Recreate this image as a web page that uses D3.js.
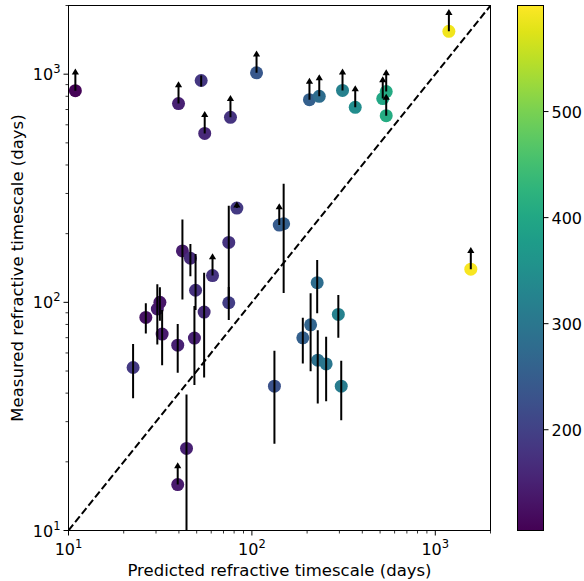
<!DOCTYPE html>
<html><head><meta charset="utf-8">
<script src="https://cdn.jsdelivr.net/npm/d3@7"></script>
<style>body{margin:0;background:#fff}svg{display:block}text{font-family:"DejaVu Sans",sans-serif;fill:#000}</style>
</head><body>
<svg id="chart" width="584" height="581"></svg>
<script>
// ---- data ----
const predicted = [10.9,39.8,52.9,55.3,76.4,106,206,233,312,366,517,540,540,1186,141,149,
  22.5,26.4,30.5,31.5,32.4,39.4,41.8,46.2,49.3,48.6,54.9,61,74.8,74.8,82.8,132.7,227,296,209,189.5,228.6,254,307,1562,44.0,39.4];
const measured = [847,743,938,550,647,1014,773,800,849,716,782,839,658,1541,218,221,
  51.8,85.9,93.5,100,72.6,64.9,168,156,113,69.7,90.6,131,183,99.6,259,42.9,122,88.5,79.7,69.9,55.8,53.7,42.9,139.7,22.9,15.9];
const colorValue = [110,150,185,160,180,240,255,280,320,345,400,405,410,590,245,255,
  190,130,145,135,140,150,145,165,175,150,165,180,180,195,190,230,280,320,265,255,290,300,310,595,150,140];
const errLow = [null,null,882,null,null,null,null,null,null,null,null,null,null,null,null,110,
  38.0,73,65.4,83,53,49.1,103,130,92.5,43.4,46.8,null,102.4,83.6,null,24.0,89.5,69.9,49.9,54,36,36.9,30.4,null,5,null];
const errHigh = [null,null,986,null,null,null,null,null,null,null,null,null,null,null,null,331,
  65.6,99,120,116.4,92.5,80.4,231,180,163,96.3,134.8,null,265,116.7,null,61.3,153.5,107.7,109.5,85.5,75.5,70.6,55.4,null,39.5,null];
const lowerLimitTip = [1060,930,null,690,810,1270,965,1000,1060,895,980,1050,820,1930,272,null,
  null,null,null,null,null,null,null,null,null,null,null,164,null,null,277,null,null,null,null,null,null,null,null,175,null,19.9];
const xTicks = [10,100,1000];
const yTicks = [10,100,1000];
const colorTicks = [200,300,400,500];
const colorDomain = [105,600];
const axisDomain = [10,2000];
const xLabel = "Predicted refractive timescale (days)";
const yLabel = "Measured refractive timescale (days)";

// ---- layout ----
const svg = d3.select("#chart");
const L = 68.5, R = 490.5, T = 5.5, B = 530.5;
const x = d3.scaleLog().domain(axisDomain).range([L, R]);
const y = d3.scaleLog().domain(axisDomain).range([B, T]);
const color = d3.scaleSequential(d3.interpolateViridis).domain(colorDomain);

const pts = predicted.map((p,i)=>({x:p,y:measured[i],c:colorValue[i],lo:errLow[i],hi:errHigh[i],tip:lowerLimitTip[i]}));

svg.append("defs").append("clipPath").attr("id","clip")
  .append("rect").attr("x",L).attr("y",T).attr("width",R-L).attr("height",B-T);

const plot = svg.append("g").attr("clip-path","url(#clip)");

// dashed one-to-one line
plot.append("line")
  .attr("x1",x(axisDomain[0])).attr("y1",y(axisDomain[0]))
  .attr("x2",x(axisDomain[1])).attr("y2",y(axisDomain[1]))
  .attr("stroke","#000").attr("stroke-width",2).attr("stroke-dasharray","7.4,3.2");

// points
plot.selectAll("circle.pt").data(pts).join("circle")
  .attr("class","pt")
  .attr("cx",d=>x(d.x)).attr("cy",d=>y(d.y)).attr("r",6.5)
  .attr("fill",d=>color(d.c));

// error bars
plot.selectAll("line.err").data(pts.filter(d=>d.lo!=null)).join("line")
  .attr("class","err")
  .attr("x1",d=>x(d.x)).attr("x2",d=>x(d.x))
  .attr("y1",d=>y(d.lo)).attr("y2",d=>y(d.hi))
  .attr("stroke","#000").attr("stroke-width",2);

// lower-limit arrows
const lim = pts.filter(d=>d.tip!=null);
plot.selectAll("line.lim").data(lim).join("line")
  .attr("class","lim")
  .attr("x1",d=>x(d.x)).attr("x2",d=>x(d.x))
  .attr("y1",d=>y(d.y)).attr("y2",d=>y(d.tip)+3)
  .attr("stroke","#000").attr("stroke-width",2);
plot.selectAll("path.head").data(lim).join("path")
  .attr("class","head")
  .attr("d",d=>{const cx=x(d.x), ty=y(d.tip);return `M${cx},${ty} L${cx-3.6},${ty+6} L${cx+3.6},${ty+6} Z`;})
  .attr("fill","#000");

// axes
function supLabel(sel, v){
  const e = Math.round(Math.log10(v));
  sel.append("tspan").text("10");
  sel.append("tspan").attr("dy",-7).attr("font-size",11.5).text(e);
}
const minorVals = [];
for (let dec=10; dec<2000; dec*=10) for (let k=2;k<=9;k++){ const v=k*dec; if(v<=2000) minorVals.push(v); }

const ax = svg.append("g");
ax.selectAll("line.xmaj").data(xTicks).join("line").attr("class","xmaj")
  .attr("x1",d=>x(d)).attr("x2",d=>x(d)).attr("y1",B).attr("y2",B+5)
  .attr("stroke","#000").attr("stroke-width",1);
ax.selectAll("line.xmin").data(minorVals).join("line").attr("class","xmin")
  .attr("x1",d=>x(d)).attr("x2",d=>x(d)).attr("y1",B).attr("y2",B+3)
  .attr("stroke","#000").attr("stroke-width",0.8);
xTicks.forEach(v=>{
  const t = ax.append("text").attr("x",x(v)).attr("y",B+24).attr("text-anchor","middle").attr("font-size",16);
  supLabel(t,v);
});
ax.selectAll("line.ymaj").data(yTicks).join("line").attr("class","ymaj")
  .attr("y1",d=>y(d)).attr("y2",d=>y(d)).attr("x1",L).attr("x2",L-5)
  .attr("stroke","#000").attr("stroke-width",1);
ax.selectAll("line.ymin").data(minorVals).join("line").attr("class","ymin")
  .attr("y1",d=>y(d)).attr("y2",d=>y(d)).attr("x1",L).attr("x2",L-3)
  .attr("stroke","#000").attr("stroke-width",0.8);
yTicks.forEach(v=>{
  const t = ax.append("text").attr("x",L-8).attr("y",y(v)+6).attr("text-anchor","end").attr("font-size",16);
  supLabel(t,v);
});
svg.append("rect").attr("x",L).attr("y",T).attr("width",R-L).attr("height",B-T)
  .attr("fill","none").attr("stroke","#000").attr("stroke-width",1);

// axis labels
svg.append("text").attr("x",(L+R)/2).attr("y",576).attr("text-anchor","middle").attr("font-size",16.5).text(xLabel);
svg.append("text").attr("transform",`translate(23,${(T+B)/2}) rotate(-90)`).attr("text-anchor","middle").attr("font-size",16.5).text(yLabel);

// colorbar
const CL = 517.5, CR = 543.5;
const cy = d3.scaleLinear().domain(colorDomain).range([B, T]);
const grad = svg.select("defs").append("linearGradient").attr("id","cbg")
  .attr("x1",0).attr("y1",1).attr("x2",0).attr("y2",0);
d3.range(0,1.0001,0.05).forEach(t=>{
  grad.append("stop").attr("offset",t).attr("stop-color",d3.interpolateViridis(t));
});
svg.append("rect").attr("x",CL).attr("y",T).attr("width",CR-CL).attr("height",B-T)
  .attr("fill","url(#cbg)").attr("stroke","#000").attr("stroke-width",1);
svg.selectAll("line.ctick").data(colorTicks).join("line").attr("class","ctick")
  .attr("x1",CR).attr("x2",CR+5).attr("y1",d=>cy(d)).attr("y2",d=>cy(d))
  .attr("stroke","#000").attr("stroke-width",1);
svg.selectAll("text.clab").data(colorTicks).join("text").attr("class","clab")
  .attr("x",CR+8).attr("y",d=>cy(d)+6).attr("font-size",16).text(d=>d);
</script>
</body></html>
